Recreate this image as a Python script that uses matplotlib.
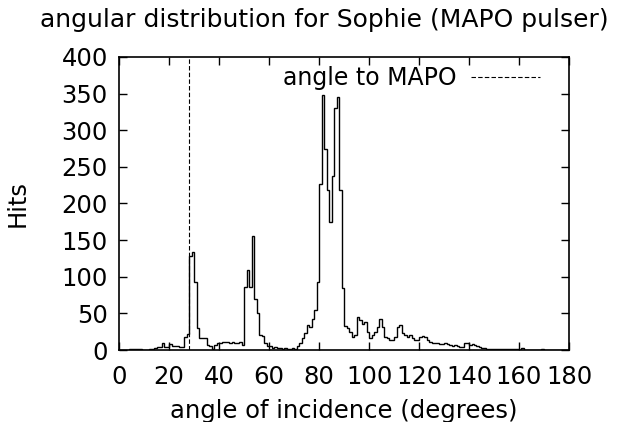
import numpy as np
import matplotlib
matplotlib.use("Agg")
from matplotlib import pyplot as plt

# hits per 1-degree bin, 0..179 degrees
hits = [
    0, 0, 0, 0, 2, 1, 1, 1, 1, 0,          # 0-9
    0, 0, 2, 2, 3, 4, 4, 10, 4, 4,         # 10-19
    8, 5, 5, 5, 4, 4, 18, 22, 128, 134,    # 20-29
    93, 30, 16, 17, 17, 7, 5, 2, 7, 9,     # 30-39
    10, 11, 11, 11, 10, 11, 10, 9, 11, 7,  # 40-49
    86, 109, 86, 155, 70, 50, 20, 19, 9, 5,  # 50-59
    5, 3, 4, 3, 3, 2, 3, 2, 2, 3,          # 60-69
    2, 5, 9, 16, 23, 34, 32, 43, 55, 93,   # 70-79
    227, 348, 275, 218, 175, 237, 330, 345, 218, 84,  # 80-89
    33, 30, 25, 18, 20, 45, 41, 36, 38, 25,  # 90-99
    16, 20, 25, 32, 42, 32, 18, 17, 14, 14,  # 100-109
    18, 32, 34, 23, 20, 18, 20, 16, 14, 14,  # 110-119
    18, 19, 18, 14, 11, 10, 10, 10, 8, 8,    # 120-129
    10, 8, 7, 5, 7, 5, 4, 4, 10, 9,          # 130-139
    7, 8, 7, 5, 4, 3, 3, 2, 2, 1,            # 140-149
    2, 1, 1, 1, 1, 1, 1, 1, 1, 1,            # 150-159
    0, 3, 0, 0, 0, 0, 0, 0, 0, 1,            # 160-169
    0, 0, 0, 0, 0, 0, 0, 0, 0, 0,            # 170-179
]
edges = np.arange(0, 181, 1)
mapo_angle = 28.0

xticks = list(range(0, 181, 20))
yticks = list(range(0, 401, 50))

plt.rcParams['font.family'] = 'DejaVu Sans'
fs = 17.5

fig = plt.figure(figsize=(6.18, 4.22), dpi=100)
ax = fig.add_axes([0.1926, 0.1706, 0.7281, 0.6944])

ax.stairs(hits, edges, color='black', linewidth=1.0)
ax.axvline(mapo_angle, color='black', linewidth=0.8, linestyle=(0, (4, 2)),
           label='angle to MAPO')

ax.set_xlim(0, 180)
ax.set_ylim(0, 400)
ax.set_xticks(xticks)
ax.set_yticks(yticks)
ax.tick_params(direction='in', top=True, right=True, length=6, width=1,
               labelsize=fs)
ax.tick_params(axis='x', pad=11)
ax.tick_params(axis='y', pad=8)
for s in ax.spines.values():
    s.set_linewidth(1.2)

# title sits a little left of the axes centre
fig.text(0.524, 0.953, 'angular distribution for Sophie (MAPO pulser)',
         fontsize=18, ha='center', va='center')
ax.set_xlabel('angle of incidence (degrees)', fontsize=fs, labelpad=7)
ax.set_ylabel('Hits', fontsize=fs, labelpad=23)

ax.legend(loc='upper right', frameon=False, fontsize=17, markerfirst=False,
          handlelength=2.9, borderaxespad=0, handletextpad=0.6,
          bbox_to_anchor=(0.956, 1.0))

fig.savefig('out.png', dpi=100)
